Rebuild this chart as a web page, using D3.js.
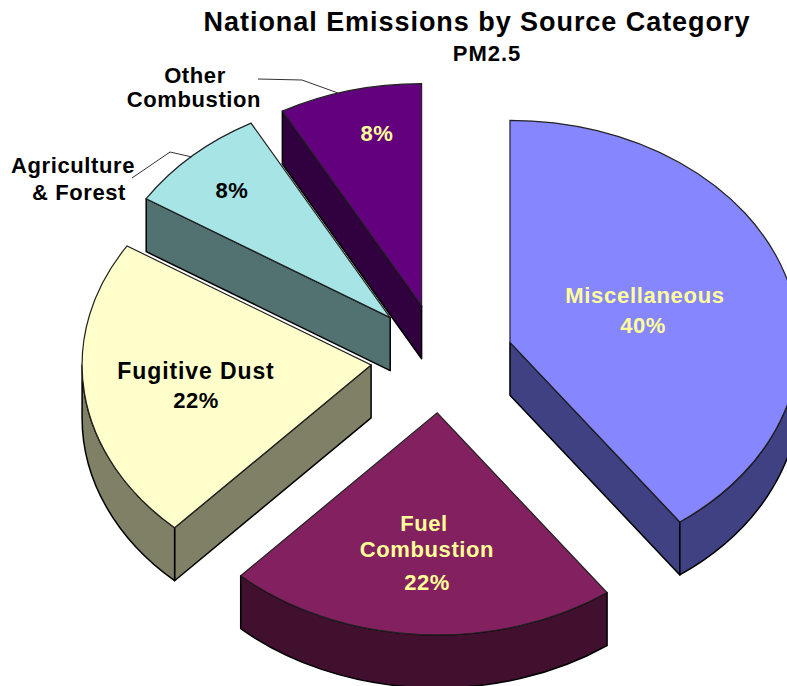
<!DOCTYPE html>
<html>
<head>
<meta charset="utf-8">
<script src="https://cdn.jsdelivr.net/npm/d3@7"></script>
<style>
  html, body { margin: 0; padding: 0; background: #fff; overflow: hidden; }
  text { font-family: "Liberation Sans", Arial, sans-serif; font-weight: bold; text-anchor: middle; }
</style>
</head>
<body>
<div id="chart"></div>
<script>
var categories = ['Miscellaneous', 'Fuel Combustion', 'Fugitive Dust', 'Agriculture & Forest', 'Other Combustion'];
var shares = [40, 21.9, 22.1, 8, 8];
var topColors = ['#8686ff', '#83205f', '#ffffcb', '#a6e4e6', '#62007e'];
var sideColors = ['#3f4183', '#41102f', '#808066', '#527272', '#30003f'];

var width = 787, height = 686;
var cx = 441.5, cy = 359;      // pie centre before the slices are pulled out
var rx = 289, ry = 222;        // the tilt squashes the circle
var explodeX = 72, explodeY = 54;
var depth = 53;
// small corrections to the pull-out
var nudgeX = [0, 0, 1, -2, -2];
var nudgeY = [0, 0, -1, -2, -1];

var svg = d3.select('#chart').append('svg')
  .attr('width', width)
  .attr('height', height);

var pie = d3.pie().sort(null).value(function(d) { return d; });
var arcs = pie(shares);
var topArc = d3.arc().innerRadius(0).outerRadius(ry);

// point on the rim of a slice, relative to its apex
function rim(a, dy) {
  return [rx * Math.sin(a), -ry * Math.cos(a) + (dy || 0)];
}

function wallPath(a) {
  var p = rim(a), q = rim(a, depth);
  return 'M0,0L' + p + 'L' + q + 'L0,' + depth + 'Z';
}

function bandPath(a0, a1) {
  var p0 = rim(a0), p1 = rim(a1), q1 = rim(a1, depth), q0 = rim(a0, depth);
  return 'M' + p0 + 'A' + rx + ',' + ry + ' 0 0 1 ' + p1 +
    'L' + q1 + 'A' + rx + ',' + ry + ' 0 0 0 ' + q0 + 'Z';
}

var slices = svg.selectAll('g.slice')
  .data(arcs)
  .enter().append('g')
  .attr('class', 'slice')
  .attr('transform', function(d, i) {
    var mid = (d.startAngle + d.endAngle) / 2;
    return 'translate(' + (cx + explodeX * Math.sin(mid) + nudgeX[i]) + ',' +
      (cy - explodeY * Math.cos(mid) + nudgeY[i]) + ')';
  });

slices.each(function(d, i) {
  var g = d3.select(this);
  var side = function(path) {
    g.append('path')
      .attr('d', path)
      .attr('fill', sideColors[i])
      .attr('stroke', '#000')
      .attr('stroke-width', 1.5)
      .attr('stroke-linejoin', 'round');
  };
  // only the faces turned toward the viewer
  if (Math.sin(d.startAngle) < 0) side(wallPath(d.startAngle));
  if (Math.sin(d.endAngle) > 0) side(wallPath(d.endAngle));
  var a0 = Math.max(d.startAngle, Math.PI / 2);
  var a1 = Math.min(d.endAngle, Math.PI * 3 / 2);
  if (a1 > a0) side(bandPath(a0, a1));

  g.append('path')
    .attr('d', topArc(d))
    .attr('transform', 'scale(' + (rx / ry) + ',1)')
    .attr('fill', topColors[i])
    .attr('stroke', '#222')
    .attr('stroke-width', 1.2)
    .attr('vector-effect', 'non-scaling-stroke');
});

// text, each line: [string, x, baseline, size, letter spacing, colour]
var textLines = [
  ['National Emissions by Source Category', 477, 31, 27, 0.95, '#000'],
  ['PM2.5', 487, 61, 22, 1, '#000'],
  ['Miscellaneous', 645, 303, 22, 0.7, '#ffff99'],
  ['40%', 643, 333, 22, 0.5, '#ffff99'],
  ['Fuel', 424, 531, 22, 0.6, '#ffff99'],
  ['Combustion', 427, 557, 22, 0.6, '#ffff99'],
  ['22%', 427, 590, 22, 0.5, '#ffff99'],
  ['Fugitive Dust', 196, 379, 23, 0.9, '#000'],
  ['22%', 196, 408, 22, 0.5, '#000'],
  ['Agriculture', 73, 173, 22, 0.6, '#000'],
  ['& Forest', 79, 200, 22, 0.6, '#000'],
  ['8%', 232, 198, 22, 0.5, '#000'],
  ['Other', 195, 83, 22, 0.6, '#000'],
  ['Combustion', 194, 107, 22, 0.6, '#000'],
  ['8%', 377, 141, 22, 0.5, '#ffff99']
];

svg.selectAll('text.label')
  .data(textLines)
  .enter().append('text')
  .attr('class', 'label')
  .attr('x', function(d) { return d[1]; })
  .attr('y', function(d) { return d[2]; })
  .attr('font-size', function(d) { return d[3]; })
  .attr('letter-spacing', function(d) { return d[4]; })
  .attr('fill', function(d) { return d[5]; })
  .text(function(d) { return d[0]; });

// leader lines
var leader = d3.line();
[
  [[258, 79], [302, 80], [338, 93]],
  [[132, 178], [170, 152], [192, 157]]
].forEach(function(pts) {
  svg.append('path')
    .attr('d', leader(pts))
    .attr('fill', 'none')
    .attr('stroke', '#333')
    .attr('stroke-width', 1);
});
</script>
</body>
</html>
